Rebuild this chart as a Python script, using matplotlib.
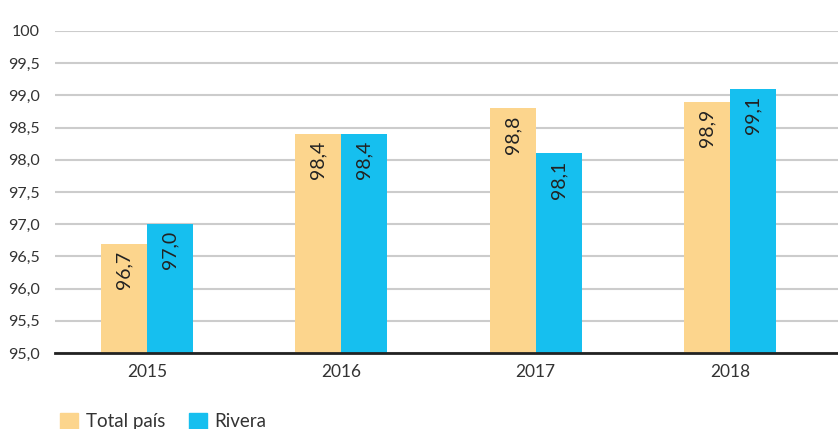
import numpy as np
import matplotlib.pyplot as plt
from matplotlib.patches import Patch

years = ["2015", "2016", "2017", "2018"]
total_pais = [96.7, 98.4, 98.8, 98.9]
rivera = [97.0, 98.4, 98.1, 99.1]
yticks = [95.0, 95.5, 96.0, 96.5, 97.0, 97.5, 98.0, 98.5, 99.0, 99.5, 100]

c_total = "#FCD58D"
c_rivera = "#16BFEF"
txt = "#333333"

plt.rcParams['font.family'] = ['Lato', 'DejaVu Sans']

fig = plt.figure(figsize=(8.38, 4.29), dpi=100)
ax = fig.add_axes([0.0656, 0.177, 0.9344, 0.751])

x = np.arange(len(years))
w = 0.237
ax.bar(x - w / 2, np.array(total_pais) - 95, w, bottom=95, color=c_total, zorder=3)
ax.bar(x + w / 2, np.array(rivera) - 95, w, bottom=95, color=c_rivera, zorder=3)

# valores dentro de las barras, rotados
for xs, vals in [(x - w / 2, total_pais), (x + w / 2, rivera)]:
    for xi, v in zip(xs, vals):
        ax.annotate(f"{v:.1f}".replace(".", ","), (xi, v), xytext=(0, -5),
                    textcoords="offset points", rotation=90, ha="center", va="top",
                    fontsize=14, color="#222222", zorder=4)

ax.set_ylim(95, 100)
ax.set_xlim(-0.473, 3.555)
ax.set_yticks(yticks)
ax.set_yticklabels(["100" if t == 100 else f"{t:.1f}".replace(".", ",") for t in yticks])
ax.set_xticks(x)
ax.set_xticklabels(years)
ax.yaxis.grid(True, color="#cccccc", linewidth=1.5, zorder=0)
ax.tick_params(axis="y", length=0, pad=11, labelsize=11.5, labelcolor=txt)
ax.tick_params(axis="x", length=0, pad=8, labelsize=12.5, labelcolor=txt)
for s in ["top", "right", "left"]:
    ax.spines[s].set_visible(False)
ax.spines["bottom"].set_color("#222222")
ax.spines["bottom"].set_linewidth(2)
ax.spines["bottom"].set_zorder(5)

handles = [Patch(color=c_total, label="Total país"), Patch(color=c_rivera, label="Rivera")]
fig.legend(handles=handles, loc="lower left", bbox_to_anchor=(0.063, -0.02), ncol=2,
           frameon=False, handlelength=0.95, handleheight=0.95, handletextpad=0.4,
           columnspacing=1.3, fontsize=13.5, labelcolor=txt, borderaxespad=0)

fig.savefig("out.png", dpi=100)
